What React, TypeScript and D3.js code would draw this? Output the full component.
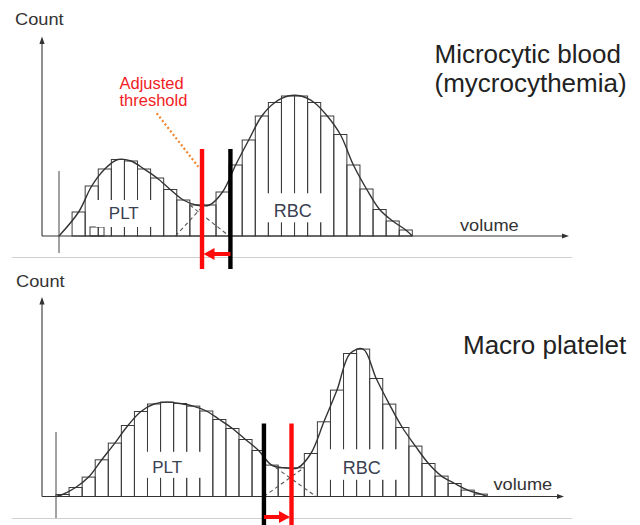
import * as d3 from 'd3';

// histogram bin heights (count units), one entry per bin, left to right
const topCounts = [0, 24, 50, 67, 76.5, 75, 67, 58, 46.5, 36, 31, 31, 44, 71, 96, 120, 133.5, 140, 140, 133.5, 120, 101.5, 71, 47, 26.5, 15, 6];
const bottomCounts = [2, 9, 19.4, 36.7, 53.4, 71, 85, 92.5, 94.4, 93, 90.4, 85.5, 77, 68, 57, 46, 31.4, 28.7, 28.7, 43, 74.7, 106.4, 143, 147.4, 118, 92.4, 69, 50.4, 33, 20.4, 13, 6.4, 2.4];

// [original threshold (black), adjusted threshold (red)] in bin units
const topThresholds = [13.1, 10.93];
const bottomThresholds = [15.91, 18.02];

// dashed tails of the overlapping populations: [bin, count] pairs
const topTails: [number, number][][] = [
  [[8.9, 0], [11.15, 32]],
  [[10.0, 31], [13.0, 0]],
];
const bottomTails: [number, number][][] = [
  [[15.9, 0], [19.0, 29]],
  [[16.8, 29], [19.9, 0]],
];

const topLabels = [
  { text: 'PLT', bin: 4.95, count: 17 },
  { text: 'RBC', bin: 17.87, count: 18.7 },
];
const bottomLabels = [
  { text: 'PLT', bin: 8.51, count: 23.2 },
  { text: 'RBC', bin: 23.39, count: 22.2 },
];

const topTitle = ['Microcytic blood', '(mycrocythemia)'];
const bottomTitle = ['Macro platelet'];
const annotation = ['Adjusted', 'threshold'];

type Mask = { dx0: number; dx1: number; dy0: number; dy1: number };

type PanelProps = {
  counts: number[];
  thresholds: number[];
  tails: [number, number][][];
  labels: { text: string; bin: number; count: number }[];
  masks: Mask[];
  xRange: [number, number];
  base: number;
  axisEnd: number;
  sepY: number;
  arrowY: number;
  lineTop: number;
  lineBottom: number;
  startLine: [number, number];
  volumeAt: [number, number];
  countAt: [number, number];
  smallBox?: [number, number, number];
};

const FONT = 'Liberation Sans, Arial, Helvetica, sans-serif';

function Panel(p: PanelProps) {
  const n = p.counts.length;
  const x = d3.scaleLinear().domain([0, n]).range(p.xRange);
  const y = d3.scaleLinear().domain([0, 200]).range([p.base, p.base - 200]);

  const pts: [number, number][] = [[0, 0]];
  p.counts.forEach((c, i) => {
    if (c > 0) pts.push([i + 0.5, c]);
  });
  pts.push([n, 0]);

  const curve = d3
    .line<[number, number]>()
    .x((d) => x(d[0]))
    .y((d) => y(d[1]))
    .curve(d3.curveCatmullRom.alpha(0.5));
  const straight = d3
    .line<[number, number]>()
    .x((d) => x(d[0]))
    .y((d) => y(d[1]));

  const axisX = 42;
  const [orig, adj] = p.thresholds;
  const xo = x(orig);
  const xa = x(adj);
  const dir = Math.sign(xa - xo);
  const head = 11;

  return (
    <g>
      {/* bins */}
      {p.counts.map((c, i) =>
        c > 0 ? (
          <rect
            key={i}
            x={x(i)}
            y={y(c)}
            width={x(i + 1) - x(i)}
            height={y(0) - y(c)}
            fill="none"
            stroke="#3c3c3c"
            strokeWidth={1}
          />
        ) : null
      )}
      {p.smallBox && (
        <rect
          x={x(p.smallBox[0])}
          y={y(p.smallBox[2])}
          width={x(p.smallBox[1]) - x(p.smallBox[0])}
          height={y(0) - y(p.smallBox[2])}
          fill="none"
          stroke="#3c3c3c"
        />
      )}
      {/* label boxes cut the bin lines */}
      {p.labels.map((l, i) => {
        const m = p.masks[i];
        const cx = x(l.bin);
        const by = y(l.count);
        return (
          <g key={l.text}>
            <rect x={cx + m.dx0} y={by + m.dy0} width={m.dx1 - m.dx0} height={m.dy1 - m.dy0} fill="#fff" />
            <text x={cx} y={by} textAnchor="middle" fontFamily={FONT} fontSize={l.text === 'PLT' ? 17 : 18} fill="#3a4152">
              {l.text}
            </text>
          </g>
        );
      })}
      {/* fitted curve */}
      <path d={curve(pts) ?? ''} fill="none" stroke="#333" strokeWidth={1.4} />
      {p.tails.map((t, i) => (
        <path key={i} d={straight(t) ?? ''} fill="none" stroke="#555" strokeWidth={1.1} strokeDasharray="4 3" />
      ))}
      {/* axes */}
      <line x1={axisX} y1={p.base} x2={axisX} y2={y(197)} stroke="#333" strokeWidth={1.1} />
      <path d={`M${axisX},${y(199.5)} L${axisX - 2.6},${y(192)} L${axisX + 2.6},${y(192)} Z`} fill="#333" />
      <line x1={axisX} y1={p.base} x2={p.axisEnd - 3} y2={p.base} stroke="#333" strokeWidth={1.1} />
      <path d={`M${p.axisEnd},${p.base} L${p.axisEnd - 7},${p.base - 2.6} L${p.axisEnd - 7},${p.base + 2.6} Z`} fill="#333" />
      <line x1={x(0)} y1={p.startLine[0]} x2={x(0)} y2={p.startLine[1]} stroke="#444" strokeWidth={1} />
      <text
        transform={`translate(${p.countAt[0]},${p.countAt[1]}) scale(1.12,1)`}
        fontFamily={FONT}
        fontSize={16.3}
        fill="#333"
      >
        Count
      </text>
      <text
        transform={`translate(${p.volumeAt[0]},${p.volumeAt[1]}) scale(1.14,1)`}
        fontFamily={FONT}
        fontSize={16}
        fill="#333"
      >
        volume
      </text>
      {/* separator */}
      <line x1={12} y1={p.sepY} x2={572} y2={p.sepY} stroke="#cfcfcf" strokeWidth={1} />
      {/* thresholds */}
      <line x1={xo} y1={y(p.lineTop)} x2={xo} y2={p.lineBottom} stroke="#000" strokeWidth={4.4} />
      <line x1={xa} y1={y(p.lineTop)} x2={xa} y2={p.lineBottom} stroke="#ff0a0a" strokeWidth={4.4} />
      <line x1={xo} y1={p.arrowY} x2={xa - dir * (head - 1)} y2={p.arrowY} stroke="#ff0a0a" strokeWidth={4} />
      <path
        d={`M${xa - dir * 1.5},${p.arrowY} L${xa - dir * (head + 1.5)},${p.arrowY - 6} L${xa - dir * (head + 1.5)},${p.arrowY + 6} Z`}
        fill="#ff0a0a"
      />
    </g>
  );
}

export default function App() {
  return (
    <svg
      width={640}
      height={525}
      viewBox="0 0 640 525"
      style={{ position: 'absolute', left: 0, top: 0, background: '#fff' }}
    >
      <rect width={640} height={525} fill="#fff" />
      <Panel
        counts={topCounts}
        thresholds={topThresholds}
        tails={topTails}
        labels={topLabels}
        masks={[
          { dx0: -28, dx1: 32, dy0: -19, dy1: 8 },
          { dx0: -29, dx1: 32, dy0: -24, dy1: 5 },
        ]}
        xRange={[59, 412.3]}
        base={236}
        axisEnd={569}
        sepY={257.5}
        arrowY={254}
        lineTop={87}
        lineBottom={269}
        startLine={[171, 253]}
        volumeAt={[460, 230.5]}
        countAt={[15, 25]}
        smallBox={[2.37, 3.44, 9]}
      />
      <Panel
        counts={bottomCounts}
        thresholds={bottomThresholds}
        tails={bottomTails}
        labels={bottomLabels}
        masks={[
          { dx0: -22, dx1: 38, dy0: -21.5, dy1: 4.5 },
          { dx0: -35, dx1: 38, dy0: -25, dy1: 5.5 },
        ]}
        xRange={[56, 487.3]}
        base={496.5}
        axisEnd={564}
        sepY={518.5}
        arrowY={517}
        lineTop={73}
        lineBottom={530}
        startLine={[432, 519]}
        volumeAt={[493.5, 490]}
        countAt={[16, 286.7]}
      />
      {/* annotation */}
      <g fontFamily={FONT} fontSize={16.5} fill="#f21c24">
        {annotation.map((t, i) => (
          <text key={t} x={119.5} y={89.3 + i * 17}>
            {t}
          </text>
        ))}
      </g>
      <line x1={156.7} y1={113.3} x2={198.3} y2={166.7} stroke="#f0842c" strokeWidth={2.2} strokeDasharray="2 2.4" />
      <g fontFamily={FONT} fontSize={26} fill="#222">
        {topTitle.map((t, i) => (
          <text key={t} x={434.5} y={63.3 + i * 28.4}>
            {t}
          </text>
        ))}
        {bottomTitle.map((t) => (
          <text key={t} x={463} y={354.3}>
            {t}
          </text>
        ))}
      </g>
    </svg>
  );
}
